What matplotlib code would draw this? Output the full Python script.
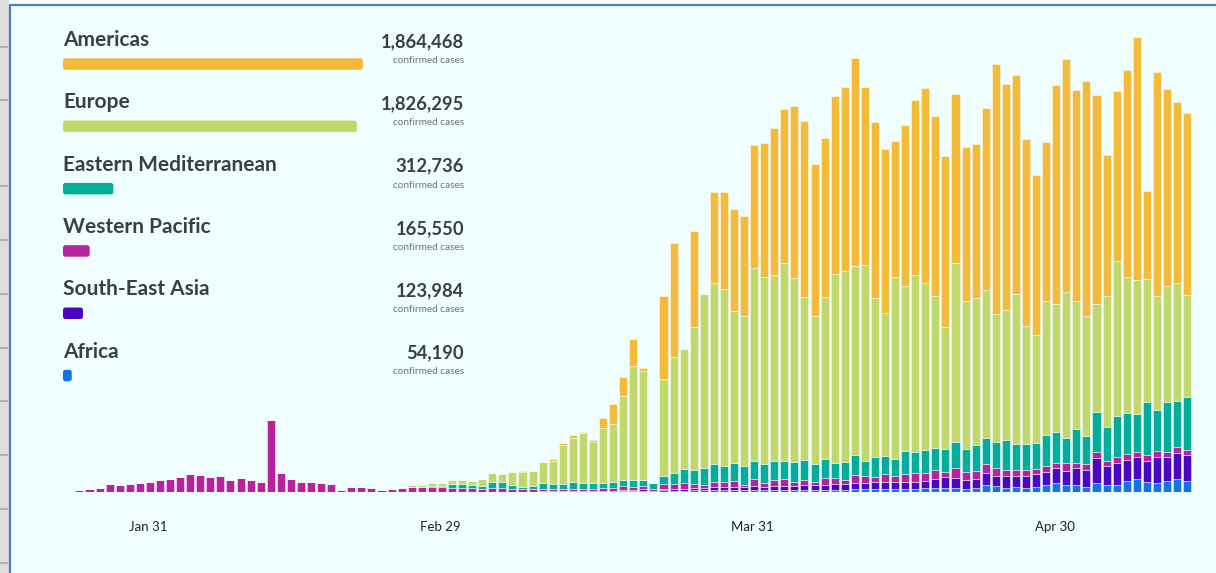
import numpy as np
import pandas as pd
import matplotlib
matplotlib.use('Agg')
import matplotlib.pyplot as plt
import matplotlib.dates as mdates
from matplotlib.patches import FancyBboxPatch, Rectangle

# ---------------- data ----------------
start_date = '2020-01-18'
n_days = 117

africa = [0] * 52 + [
    40, 40, 60, 60, 60,
    60, 80, 100, 120, 160,
    260, 100, 340, 300, 300,
    340, 340, 400, 400, 400,
    400, 400, 400, 400, 460,
    460, 460, 460, 460, 500,
    500, 540, 540, 540, 540,
    540, 540, 540, 740, 740,
    740, 740, 540, 740, 1400,
    1200, 740, 1060, 740, 1060,
    1400, 1860, 1340, 1340, 1060,
    1860, 1340, 1400, 2200, 2600,
    2060, 1740, 2200, 2540, 2200]

south_east_asia = [0] * 42 + [
    40, 40, 40, 40, 40,
    40, 40, 60, 60, 60,
    100, 100, 120, 140, 140,
    160, 160, 200, 240, 240,
    340, 200, 260, 300, 400,
    400, 460, 540, 660, 660,
    600, 800, 700, 800, 800,
    800, 900, 900, 1000, 1100,
    1100, 1320, 1320, 1400, 1500,
    1500, 1520, 1520, 1520, 1860,
    2200, 2000, 1860, 1920, 2460,
    2060, 2520, 2140, 2460, 2540,
    2600, 2880, 2920, 3400, 3340,
    5000, 3920, 4340, 4200, 4460,
    4200, 5320, 4860, 5200, 5200]

western_pacific = [
    150, 150, 150, 150, 150,
    200, 400, 600, 800, 1600,
    1400, 1600, 1900, 2000, 2500,
    2600, 3000, 3600, 3400, 3000,
    3200, 2500, 2900, 2400, 2000,
    14500, 3800, 2600, 2000, 2000,
    1800, 1700, 500, 1000, 1000,
    900, 400, 700, 800, 1000,
    1000, 1100, 900, 700, 700,
    700, 600, 700, 700, 600,
    500, 500, 400, 400, 400,
    400, 400, 400, 500, 600,
    800, 700, 600, 300, 1000,
    1000, 1200, 900, 600, 1100,
    900, 1100, 500, 1400, 800,
    1300, 1400, 800, 1000, 700,
    1300, 1300, 800, 1500, 1400,
    1100, 1500, 1200, 1500, 1700,
    1600, 1800, 1100, 2100, 1700,
    1600, 1700, 1600, 1100, 1300,
    1200, 1100, 1300, 1000, 1500,
    1100, 1300, 1100, 900, 1300,
    1200, 1000, 1100, 1200, 900,
    1200, 1000]

eastern_mediterranean = [0] * 39 + [
    60, 100, 200, 300, 940,
    940, 640, 620, 1200, 1200,
    660, 540, 600, 1260, 1000,
    1000, 1460, 1260, 1120, 1120,
    1160, 1340, 1340, 1200, 1260,
    1660, 2260, 2740, 2800, 3400,
    3540, 3320, 3660, 3800, 3600,
    3800, 3720, 3540, 3880, 4140,
    3540, 3800, 2880, 3540, 4000,
    2940, 3880, 3660, 3460, 4600,
    4200, 4540, 4460, 4600, 5200,
    4480, 5080, 5260, 5200, 6000,
    5060, 5140, 5080, 6140, 6200,
    5000, 6680, 5460, 8000, 6860,
    8140, 8260, 7480, 10660, 8140,
    10000, 9320, 10540]

europe = [0] * 39 + [
    340, 360, 440, 560, 660,
    660, 800, 1400, 1860, 1720,
    2600, 2860, 3000, 4200, 4660,
    7800, 8800, 9880, 8320, 10940,
    11540, 16720, 22860, 21860, 0,
    19340, 23080, 23940, 28540, 34740,
    36140, 35280, 30400, 29920, 38660,
    37280, 37200, 39540, 36800, 32600,
    29660, 32400, 37800, 38260, 37940,
    39140, 31920, 28540, 36340, 33000,
    35400, 33400, 30340, 24280, 35680,
    29660, 29520, 29540, 25540, 26140,
    30140, 23660, 21720, 26800, 25660,
    29320, 25660, 24140, 21660, 26140,
    30940, 27200, 26860, 24680, 22800,
    23200, 23480, 20460]

americas = [0] * 50 + [
    260, 60, 60, 340, 400,
    480, 200, 340, 2060, 3940,
    3880, 5340, 600, 0, 16600,
    22800, 0, 19320, 0, 18320,
    19520, 20340, 19940, 24540, 26860,
    29280, 30800, 34520, 35120, 30280,
    31800, 35660, 36860, 41520, 35720,
    35140, 32800, 27060, 32200, 35000,
    38940, 35940, 34320, 33800, 30740,
    30680, 36340, 49940, 45200, 43660,
    37400, 32000, 31660, 43740, 46600,
    42200, 46920, 41740, 28260, 34120,
    41340, 48540, 17520, 44860, 39400,
    36200, 36340]

regions = ['Americas', 'Europe', 'Eastern Mediterranean',
           'Western Pacific', 'South-East Asia', 'Africa']
totals = [1864468, 1826295, 312736, 165550, 123984, 54190]
colors = ['#f4bb3a', '#c0d86c', '#02ae9b', '#b7229f', '#4b06c3', '#1372e6']
stack_order = ['Africa', 'South-East Asia', 'Western Pacific',
               'Eastern Mediterranean', 'Europe', 'Americas']
series = {'Americas': americas, 'Europe': europe,
          'Eastern Mediterranean': eastern_mediterranean,
          'Western Pacific': western_pacific,
          'South-East Asia': south_east_asia, 'Africa': africa}
tick_dates = ['2020-01-31', '2020-02-29', '2020-03-31', '2020-04-30']
tick_labels = ['Jan 31', 'Feb 29', 'Mar 31', 'Apr 30']

# ---------------- figure ----------------
W, H = 1216, 573
BG = '#f1fefe'
TXT = '#3a3e48'
fig = plt.figure(figsize=(W / 100, H / 100), dpi=100, facecolor=BG)

base_px = 492          # baseline y pixel (from top)
px_per_day = 10.07
first_px = 19          # centre of first bar
cases_per_px = 200

ax = fig.add_axes([0, (H - base_px) / H, 1, base_px / H])
ax.set_facecolor('none')
dates = pd.date_range(start_date, periods=n_days)
x = mdates.date2num(dates)
x0 = x[0]
ax.set_xlim(x0 - first_px / px_per_day, x0 + (W - first_px) / px_per_day)
ax.set_ylim(0, base_px * cases_per_px)

bottom = np.zeros(n_days)
cmap = dict(zip(regions, colors))
for name in stack_order:
    vals = np.array(series[name], dtype=float)
    ax.bar(x, vals, width=0.8, bottom=bottom, color=cmap[name],
           edgecolor=(1, 1, 1, 0.55), linewidth=0.6, zorder=2)
    bottom += vals

ax.set_xticks(mdates.date2num(pd.to_datetime(tick_dates)) - 0.15)
ax.set_xticklabels(tick_labels, fontsize=9.5, family='Lato', color='#222222')
ax.tick_params(axis='x', length=0, pad=21)
ax.set_yticks([])
for s in ax.spines.values():
    s.set_visible(False)

# ---------------- overlay (pixel coordinates) ----------------
ov = fig.add_axes([0, 0, 1, 1], zorder=5)
ov.set_xlim(0, W)
ov.set_ylim(H, 0)
ov.axis('off')
ov.patch.set_alpha(0)

# screenshot frame
ov.add_patch(Rectangle((0, 0), W, 4, facecolor='white', edgecolor='none'))
ov.add_patch(Rectangle((0, 0), 9, H, facecolor='#dedede', edgecolor='none'))
for yy in [47, 100, 186, 240, 294, 348, 401, 455, 509, 563]:
    ov.plot([0, 8], [yy, yy], color='#a8a8a8', lw=1.2, solid_capstyle='butt')
ov.plot([10, W], [4.5, 4.5], color='#4f7dc0', lw=1.6, solid_capstyle='butt')
ov.plot([10, 10], [4, H], color='#4f7dc0', lw=1.6, solid_capstyle='butt')

# legend panel
row_gap = 62.3
max_total = max(totals)
for k, (name, tot, col) in enumerate(zip(regions, totals, colors)):
    dy = k * row_gap
    ov.text(63, 46 + dy, name, fontsize=15, fontweight='bold', family='Lato',
            color=TXT, va='baseline', ha='left')
    ov.text(464, 47 + dy, f'{tot:,}', fontsize=13.2, fontweight='bold',
            family='Lato', color=TXT, va='baseline', ha='right')
    ov.text(464, 63 + dy, 'confirmed cases', fontsize=7.2, family='Lato',
            color='#6e737c', va='baseline', ha='right')
    length = 300 * tot / max_total
    ov.add_patch(FancyBboxPatch((63, 58.3 + dy), length, 11.5,
                                boxstyle='round,pad=0,rounding_size=2.5',
                                facecolor=col, edgecolor='none'))

fig.savefig('out.png', dpi=100, facecolor=BG)
